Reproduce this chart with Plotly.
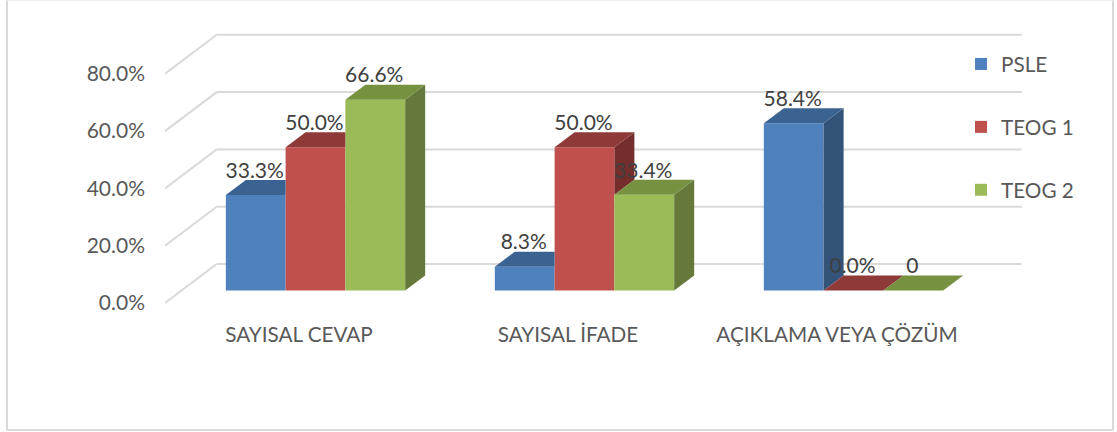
import plotly.graph_objects as go

categories = ["SAYISAL CEVAP", "SAYISAL İFADE", "AÇIKLAMA VEYA ÇÖZÜM"]
psle = [33.3, 8.3, 58.4]
teog1 = [50.0, 50.0, 0.0]
teog2 = [66.6, 33.4, 0.0]
psle_labels = ["33.3%", "8.3%", "58.4%"]
teog1_labels = ["50.0%", "50.0%", "0.0%"]
teog2_labels = ["66.6%", "33.4%", "0"]
y_ticks = [0, 20, 40, 60, 80]

series = [
    ("PSLE", psle, psle_labels, "#4F81BD", "#3B6392", "#335379"),
    ("TEOG 1", teog1, teog1_labels, "#C0504D", "#8E3A38", "#752E2C"),
    ("TEOG 2", teog2, teog2_labels, "#9BBB59", "#769140", "#65793A"),
]

W, H = 1117, 432
PX_PER_CAT = 269.0
PX_PER_VAL = 2.865
CAT0_PX = 315.5
BASE_PX = 290.5
LEFT_PX = 165.0
BOTTOM_PX = 315.0
BAR_W = (1 - 1 / 3) / 3
DX = 20 / PX_PER_CAT
DY = 15 / PX_PER_VAL
cat = lambda px: (px - CAT0_PX) / PX_PER_CAT
val = lambda px: (BASE_PX - px) / PX_PER_VAL

fig = go.Figure()

# front faces: real bars
for name, values, _, color, _, _ in series:
    fig.add_trace(go.Bar(x=list(range(len(categories))), y=values, name=name,
                         marker=dict(color=color, line=dict(width=0)),
                         legendgroup=name, hoverinfo="y"))

# side and top faces, painted left to right
def face(xs, ys, color):
    fig.add_trace(go.Scatter(x=xs, y=ys, mode="lines", fill="toself", fillcolor=color,
                             line=dict(width=0, color=color), showlegend=False, hoverinfo="skip"))

for c in range(len(categories)):
    for s, (_, values, _, _, top, side) in enumerate(series):
        v = values[c]
        l = c + (s - 1.5) * BAR_W
        r = l + BAR_W
        nxt = series[s + 1][1][c] if s + 1 < len(series) else None
        if nxt is None or nxt < v or (nxt == v and v == 0):
            low = nxt if nxt is not None else 0
            if v > low:
                face([r, r + DX, r + DX, r, r], [v, v + DY, low + DY, low, v], side)
            face([l, l + DX, r + DX, r, l], [v, v + DY, v + DY, v, v], top)
        else:
            face([l, l + DX, r, r, l], [v, v + DY, v + DY, v, v], top)

# data labels
LABEL_UP = 22.5 / PX_PER_VAL
for s, (_, values, labels, _, _, _) in enumerate(series):
    fig.add_trace(go.Scatter(
        x=[c + (s - 1) * BAR_W - 1 / PX_PER_CAT for c in range(len(categories))],
        y=[v + LABEL_UP for v in values],
        mode="text", text=labels, textposition="middle center",
        textfont=dict(family="Lato", size=21, color="#404040"),
        showlegend=False, hoverinfo="skip"))

# y-axis labels sit on the front edge of the floor/wall, so they use their own offset axis
fig.add_trace(go.Scatter(x=[0], y=[0], yaxis="y2", mode="markers",
                         marker=dict(opacity=0), showlegend=False, hoverinfo="skip"))

shapes = []
GRID = dict(color="#D9D9D9", width=2)
for t in y_ticks:
    back = t + val(264.0)
    front = t + val(303.0)
    shapes.append(dict(type="line", layer="below", xref="x", yref="y", x0=cat(216.7), x1=cat(1021.7),
                       y0=back, y1=back, line=GRID))
    shapes.append(dict(type="line", layer="below", xref="x", yref="y", x0=cat(LEFT_PX), x1=cat(216.7),
                       y0=front, y1=back, line=GRID))
for x0, y0, x1, y1, col in [(7, 0, 7, 430, "#D9D9D9"), (7, 430, 1113, 430, "#D9D9D9"),
                            (1113, 0, 1113, 430, "#D9D9D9"), (7, 0, 1113, 0, "#EFEFEF")]:
    shapes.append(dict(type="line", layer="below", xref="paper", yref="paper",
                       x0=x0 / W, x1=x1 / W, y0=1 - y0 / H, y1=1 - y1 / H,
                       line=dict(color=col, width=2)))

TICK0_PX = 303.0
fig.update_layout(
    width=W, height=H,
    margin=dict(l=0, r=0, t=0, b=0),
    paper_bgcolor="white", plot_bgcolor="rgba(0,0,0,0)",
    barmode="group", bargap=1 / 3, bargroupgap=0,
    shapes=shapes,
    showlegend=True,
    legend=dict(x=961 / W, y=1 - 44 / H, xanchor="left", yanchor="top",
                bgcolor="rgba(0,0,0,0)", tracegroupgap=33, traceorder="grouped",
                font=dict(family="Lato", size=20.7, color="#595959")),
    xaxis=dict(domain=[LEFT_PX / W, 1], range=[cat(LEFT_PX), cat(W)],
               tickmode="array", tickvals=[c - 16.5 / PX_PER_CAT for c in range(len(categories))],
               ticktext=categories, tickfont=dict(family="Lato", size=20.7, color="#595959"),
               showgrid=False, zeroline=False, showline=False, ticks="", ticklabelstandoff=5),
    yaxis=dict(domain=[1 - BOTTOM_PX / H, 1], range=[val(BOTTOM_PX), val(0)],
               showgrid=False, zeroline=False, showline=False, showticklabels=False),
    yaxis2=dict(overlaying="y", anchor="free", position=LEFT_PX / W, side="left",
                domain=[1 - BOTTOM_PX / H, 1],
                range=[(TICK0_PX - BOTTOM_PX) / PX_PER_VAL, TICK0_PX / PX_PER_VAL],
                tickmode="array", tickvals=y_ticks, ticktext=[f"{t:.1f}%" for t in y_ticks],
                tickfont=dict(family="Lato", size=21, color="#595959"),
                showgrid=False, zeroline=False, showline=False, ticks="", ticklabelstandoff=20),
)

fig.write_html("out.html", config={"displayModeBar": False},
               post_script="document.body.style.margin='0';document.documentElement.style.overflow='hidden';")
